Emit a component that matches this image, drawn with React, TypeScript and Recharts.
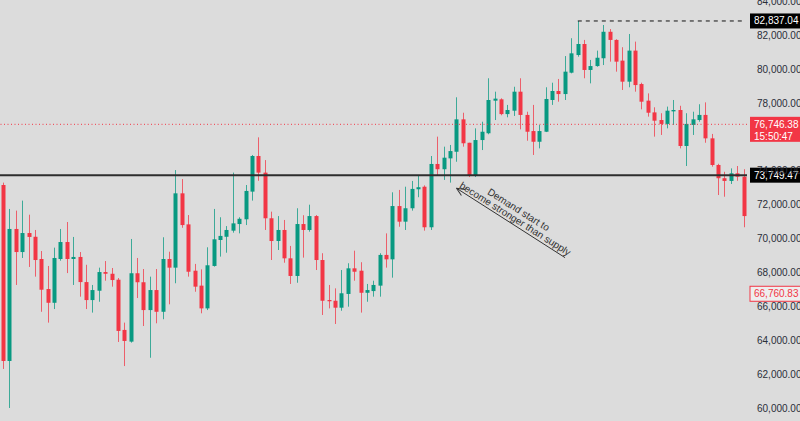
import React from 'react';
import { ComposedChart, Bar, XAxis, YAxis, ReferenceLine, ReferenceDot } from 'recharts';

const opens = [73170,62800,70580,69220,70340,70120,68810,67040,66230,68810,69810,68810,68930,67450,66390,66940,68040,67940,67590,64630,63940,67970,67440,65800,66980,65700,68810,68300,72680,70850,68120,67240,65900,68400,69930,70120,70480,70870,71150,72780,74880,73900,71210,69870,70520,68850,67810,70870,70520,71340,68750,66390,66350,65940,66750,68260,68120,66820,66920,67240,69050,68790,71930,71010,71800,72920,73070,70680,74410,74100,74740,75130,77040,75660,73700,75820,76220,78140,78220,77350,77550,78670,77300,76350,75720,76310,78180,78710,78530,79790,80830,81480,79950,80180,80640,82200,81720,80500,79260,81090,79120,78140,77450,77000,76770,77510,77590,75470,76710,77000,77300,75920,74350,73570,73410,73860,73660];
const highs = [73310,71760,71660,72250,71420,70520,69280,68400,69480,70580,70990,70110,69220,68470,67280,68300,68690,68280,67690,65060,69990,68870,68220,67770,68220,70090,69240,74050,73520,71400,68520,68200,69500,71760,71270,70750,73900,71270,73170,74940,75980,74640,71600,71340,71110,69580,71800,71390,72010,71400,69150,67280,67080,68160,68560,69300,68620,67340,67530,69150,70320,72740,72880,73070,73410,73740,73150,74880,76020,75430,75530,78340,77430,75660,76510,76900,79460,78670,78280,77890,78960,79460,77490,77890,76710,78930,79200,79420,80770,81820,82837.04,81720,80540,81090,82600,82360,81760,81290,82070,81620,79200,78570,77750,77400,77790,78180,77840,77400,77490,77930,78040,76180,74420,73950,74150,74290,74100];
const lows = [62330,60030,67280,68870,68340,67770,65700,65060,65860,68710,67980,67280,66590,65860,65650,66290,67530,67180,63920,62500,63880,66510,64860,62990,65020,65260,66140,67380,70650,67770,66880,65610,65800,68360,68950,69180,70360,70320,70810,72250,73420,70520,68750,69340,68590,67340,67410,68890,70420,68160,65510,65900,64980,65760,66000,67530,65650,66290,66590,66590,68300,67710,70710,70520,71660,72450,70480,70520,73760,73470,73310,74540,75430,73640,73640,75230,76160,77000,77280,77160,77240,76450,75780,74940,75330,76290,77890,78080,78180,79750,80730,79460,79160,80140,80240,80440,79850,78770,78930,78670,77630,77200,76020,76120,76510,76710,75330,74290,76120,76900,75660,74250,72580,72480,73230,73420,70680];
const closes = [62800,70580,69220,70340,70110,68750,67000,66230,68870,69810,68810,68930,67450,66390,66980,68040,67940,67570,64570,63980,67970,67440,65800,66980,65700,68810,68300,72680,70810,68060,67180,65900,68440,69970,70170,70520,70910,71180,72820,74880,73900,71210,69870,70520,68850,67810,70870,70520,71340,68750,66350,66350,65940,66790,68260,68060,66820,66980,67280,69050,68790,71930,71010,71800,72940,73040,70680,74410,74100,74780,75170,77040,75630,73700,75820,76310,78180,78260,77350,77590,78670,77300,76310,75720,76350,78240,78710,78530,79850,80930,81480,79950,80180,80670,82200,81720,80440,79260,81090,79060,78080,77430,76960,76770,77550,77590,75470,76770,77040,77300,75920,74350,73570,73410,73860,73660,71340];

const yTicks = [60000, 62000, 64000, 66000, 68000, 70000, 72000, 74000, 78000, 80000, 82000, 84000];
const yDomain = [59263, 84073];

const lastPrice = 76746.38;
const lastPriceCountdown = '15:50:47';
const supportLevel = 73749.47;
const peakLevel = 82837.04;
const peakIndex = 90;
const lowMarkLevel = 66760.83;

const annotationLines = ['Demand start to', 'become stronger than supply'];
const arrowTip = { index: 71, value: 72980 };
const arrowTail = { index: 88, value: 68890 };

const data = opens.map((o, i) => ({
  idx: i,
  open: o,
  high: highs[i],
  low: lows[i],
  close: closes[i],
  range: [lows[i], highs[i]],
}));
const lastIndex = data.length - 1;

const GREEN = '#089981';
const RED = '#f23645';
const BG = '#dcdcdc';
const FONT = '"Liberation Sans", Arial, sans-serif';
const fmt = (v: number) =>
  v.toLocaleString('en-US', { minimumFractionDigits: 2, maximumFractionDigits: 2 });

const Candle = (props: any) => {
  const { x, y, width, height, payload } = props;
  const { open, close, high, low } = payload;
  const color = close >= open ? GREEN : RED;
  const k = height / (high - low);
  const cx = Math.round(x + width / 2) + 0.5;
  const top = y + (high - Math.max(open, close)) * k;
  const bot = y + (high - Math.min(open, close)) * k;
  return (
    <g>
      <line x1={cx} x2={cx} y1={y} y2={y + height} stroke={color} strokeWidth={1} strokeOpacity={0.75} />
      <rect x={cx - 2} y={top} width={4} height={Math.max(1.2, bot - top)} fill={color} />
    </g>
  );
};

const AxisTick = (props: any) => {
  const { x, y, payload } = props;
  return (
    <text x={x} y={y} dy={3.5} textAnchor="start" fontFamily={FONT} fontSize={10} fill="#2a2e39">
      {fmt(payload.value)}
    </text>
  );
};

const makeTag = (opts: { text: string; sub?: string; fill: string; color: string; stroke?: string }) =>
  (p: any) => {
    const vb = p.viewBox || {};
    const yy = vb.y;
    const bx = vb.x + vb.width + 3;
    const h = opts.sub ? 25 : 15;
    return (
      <g>
        <rect x={bx} y={yy - 7.5} width={52} height={h} fill={opts.fill} stroke={opts.stroke || 'none'} strokeWidth={1} />
        <text x={bx + 4} y={yy} dy={3.5} fontFamily={FONT} fontSize={10} fill={opts.color}>{opts.text}</text>
        {opts.sub && (
          <text x={bx + 4} y={yy + 12} dy={3.5} fontFamily={FONT} fontSize={10} fill={opts.color}>{opts.sub}</text>
        )}
      </g>
    );
  };

const AnnotationHead = (props: any) => {
  const { cx, cy } = props;
  const ang = 32.2;
  return (
    <g transform={`translate(${cx},${cy}) rotate(${ang})`}>
      <line x1={0} y1={0} x2={8} y2={-3.5} stroke="#333" strokeWidth={1} />
      <line x1={0} y1={0} x2={8} y2={3.5} stroke="#333" strokeWidth={1} />
      <text x={64} y={-15} textAnchor="middle" dominantBaseline="central" fontFamily={FONT} fontSize={10} fill="#333">
        {annotationLines[0]}
      </text>
      <text x={66} y={-5.5} textAnchor="middle" dominantBaseline="central" fontFamily={FONT} fontSize={10} fill="#333">
        {annotationLines[1]}
      </text>
    </g>
  );
};

export default function App() {
  return (
    <div style={{ position: 'absolute', left: 0, top: 0, width: 800, height: 421, background: BG, overflow: 'hidden' }}>
      <ComposedChart width={800} height={421} data={data} margin={{ top: 0, right: 0, bottom: 0, left: 0 }} barCategoryGap={0}>
        <XAxis dataKey="idx" type="category" hide />
        <YAxis
          orientation="right"
          width={53}
          domain={yDomain}
          allowDataOverflow
          ticks={yTicks}
          interval={0}
          axisLine={false}
          tickLine={false}
          tickSize={0}
          tickMargin={10}
          tick={<AxisTick />}
        />
        <ReferenceLine y={lastPrice} stroke={RED} strokeDasharray="1 2.5" strokeWidth={1}
          label={makeTag({ text: fmt(lastPrice), sub: lastPriceCountdown, fill: RED, color: '#fff' })} />
        <ReferenceLine y={supportLevel} stroke="#2e2e2e" strokeWidth={2}
          label={makeTag({ text: fmt(supportLevel), fill: '#000', color: '#fff' })} />
        <ReferenceLine segment={[{ x: peakIndex, y: peakLevel }, { x: lastIndex, y: peakLevel }]} stroke="#111" strokeDasharray="4 4" strokeWidth={1} />
        <ReferenceLine y={peakLevel} strokeOpacity={0}
          label={makeTag({ text: fmt(peakLevel), fill: '#000', color: '#fff' })} />
        <ReferenceLine y={lowMarkLevel} strokeOpacity={0}
          label={makeTag({ text: fmt(lowMarkLevel), fill: '#eee', color: RED, stroke: RED })} />
        <Bar dataKey="range" shape={<Candle />} isAnimationActive={false} />
        <ReferenceLine segment={[{ x: arrowTip.index, y: arrowTip.value }, { x: arrowTail.index, y: arrowTail.value }]} stroke="#333" strokeWidth={1} />
        <ReferenceDot x={arrowTip.index} y={arrowTip.value} r={0} shape={<AnnotationHead />} />
      </ComposedChart>
    </div>
  );
}
